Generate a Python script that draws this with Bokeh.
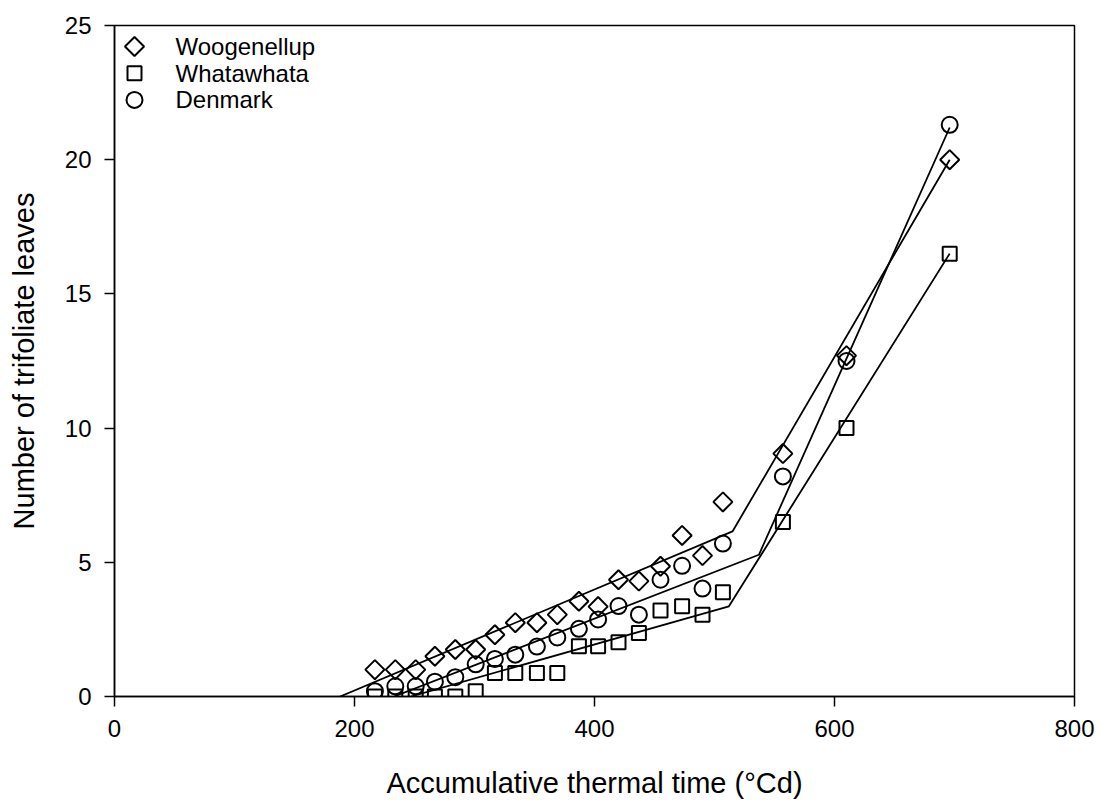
import math
from bokeh.plotting import figure
from bokeh.models import ColumnDataSource, FixedTicker, Range1d
from bokeh.core.properties import value
from bokeh.embed import file_html
from bokeh.resources import INLINE

# ---- data ----
thermal_time = [217, 234, 251, 267, 284, 301, 317, 334, 352, 369, 387, 403,
                420, 437, 455, 473, 490, 507, 557, 610, 696]
woogenellup = [1.0, 1.0, 1.0, 1.5, 1.75, 1.75, 2.3, 2.75, 2.75, 3.05, 3.55, 3.35,
               4.35, 4.3, 4.85, 6.0, 5.25, 7.25, 9.05, 12.7, 20.0]
whatawhata = [0.0, 0.0, 0.0, 0.0, 0.0, 0.2, 0.88, 0.88, 0.88, 0.88, 1.87, 1.87,
              2.02, 2.37, 3.2, 3.36, 3.05, 3.88, 6.5, 10.0, 16.5]
denmark = [0.2, 0.38, 0.38, 0.55, 0.72, 1.2, 1.4, 1.56, 1.86, 2.2, 2.52, 2.87,
           3.37, 3.05, 4.35, 4.87, 4.02, 5.7, 8.2, 12.5, 21.3]

# fitted broken-stick lines
fit_woog_x = [188, 515, 696]
fit_woog_y = [0.0, 6.15, 20.0]
fit_what_x = [247, 512, 696]
fit_what_y = [0.0, 3.36, 16.5]
fit_denm_x = [233, 537, 696]
fit_denm_y = [0.0, 5.28, 21.2]

series_names = ["Woogenellup", "Whatawhata", "Denmark"]
x_ticks = [0, 200, 400, 600, 800]
y_ticks = [0, 5, 10, 15, 20, 25]

FONT = "Liberation Sans"

FRAME_W, FRAME_H = 960, 671
p = figure(width=1099, height=802, x_range=(0, 800), y_range=(0, 25),
           output_backend="svg", toolbar_location=None,
           min_border_left=114, min_border_right=25,
           min_border_top=25, min_border_bottom=106)
# pixel-space ranges used only to place the legend block
p.extra_x_ranges = {"px": Range1d(0, FRAME_W)}
p.extra_y_ranges = {"px": Range1d(0, FRAME_H)}

p.background_fill_color = "white"
p.border_fill_color = "white"
p.grid.visible = False
p.outline_line_color = "black"
p.outline_line_width = 1.5

for ax in (p.xaxis[0], p.yaxis[0]):
    ax.axis_line_width = 1.5
    ax.axis_line_color = "black"
    ax.major_tick_line_width = 1.5
    ax.major_tick_line_color = "black"
    ax.major_tick_out = 10
    ax.major_tick_in = 0
    ax.minor_tick_line_color = None
    ax.major_label_text_font = FONT
    ax.major_label_text_font_size = "24px"
    ax.major_label_text_color = "black"
    ax.axis_label_text_font = FONT
    ax.axis_label_text_font_size = "29px"
    ax.axis_label_text_font_style = "normal"
    ax.axis_label_text_color = "black"

p.xaxis.ticker = FixedTicker(ticks=x_ticks)
p.yaxis.ticker = FixedTicker(ticks=y_ticks)
p.xaxis.axis_label = "Accumulative thermal time (°Cd)"
p.yaxis.axis_label = "Number of trifoliate leaves"
p.xaxis.major_label_standoff = 13
p.yaxis.major_label_standoff = 13
p.xaxis.axis_label_standoff = 27
p.yaxis.axis_label_standoff = 22

# fitted lines
p.line(fit_woog_x, fit_woog_y, line_color="black", line_width=1.8)
p.line(fit_what_x, fit_what_y, line_color="black", line_width=1.8)
p.line(fit_denm_x, fit_denm_y, line_color="black", line_width=1.8)

src = ColumnDataSource(dict(x=thermal_time, w=woogenellup, h=whatawhata, d=denmark))
marker_styles = [dict(marker="square", size=13.5, angle=math.pi / 4),
                 dict(marker="square", size=14, angle=0),
                 dict(marker="circle", size=16, angle=0)]
for col, st in zip(["w", "h", "d"], marker_styles):
    p.scatter("x", col, source=src, fill_color=None, line_color="black",
              line_width=2, **st)

# legend block (top-left, inside frame), laid out in frame pixels
LEG_GLYPH_X = 20
LEG_TEXT_X = 61
LEG_TOP = FRAME_H - 21
LEG_STEP = 26.7
for i, (name, st) in enumerate(zip(series_names, marker_styles)):
    yy = LEG_TOP - i * LEG_STEP
    p.scatter([LEG_GLYPH_X], [yy], x_range_name="px", y_range_name="px",
              fill_color=None, line_color="black", line_width=2, **st)
    p.text([LEG_TEXT_X], [yy], text=[name], x_range_name="px", y_range_name="px",
           text_font=value(FONT), text_font_size="24px", text_color="black",
           text_baseline="middle", text_align="left")

open("out.html", "w").write(file_html(p, INLINE))
